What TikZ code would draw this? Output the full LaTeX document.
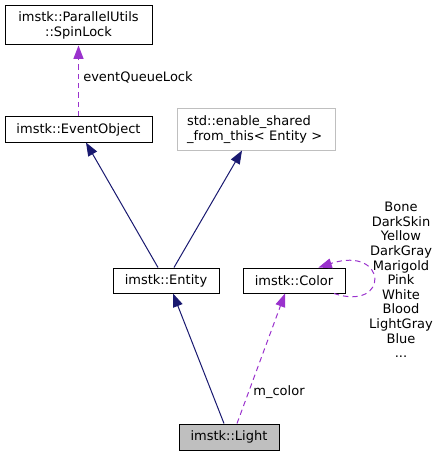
\documentclass[tikz,border=0pt]{standalone}
\usepackage{fontspec}
\setmainfont{DejaVu Sans}
\usetikzlibrary{arrows.meta,calc}
\definecolor{navyedge}{HTML}{191970}
\definecolor{purpedge}{HTML}{9A32CD}
\definecolor{grayfill}{HTML}{BFBFBF}
\tikzset{
  box/.style={draw=black, line width=0.75pt, inner sep=0pt, align=center, font=\fontsize{9.75}{11}\selectfont},
  graybox/.style={draw=grayfill, line width=0.75pt, inner sep=0pt, align=left, font=\fontsize{9.75}{11}\selectfont},
  inh/.style={draw=navyedge, line width=0.75pt, -{Triangle[length=10pt,width=7.5pt]}, color=navyedge},
  use/.style={draw=purpedge, line width=0.75pt, dashed, dash pattern=on 4pt off 3pt, -{Triangle[length=10pt,width=7.5pt]}, color=purpedge},
  lbl/.style={font=\fontsize{9.75}{11}\selectfont, inner sep=0pt}
}
\begin{document}
\begin{tikzpicture}[x=0.75pt,y=-0.75pt]
\useasboundingbox (0,0) rectangle (439,456);
\node[box, minimum width=147*0.75pt, minimum height=39*0.75pt] (spin) at (78.5,25.5) {imstk::ParallelUtils\\::SpinLock};
\node[box, minimum width=147*0.75pt, minimum height=25*0.75pt] (evobj) at (78.5,129.5) {imstk::EventObject};
\node[graybox, minimum width=158*0.75pt, minimum height=41*0.75pt, text width=138*0.75pt] (enable) at (256,129.5) {std::enable\_shared\\\_from\_this< Entity >};
\node[box, minimum width=106*0.75pt, minimum height=25*0.75pt] (entity) at (166,280.5) {imstk::Entity};
\node[box, minimum width=102*0.75pt, minimum height=25*0.75pt] (color) at (294,280.5) {imstk::Color};
\node[box, fill=grayfill, minimum width=100*0.75pt, minimum height=26*0.75pt] (light) at (229,437) {imstk::Light};

\draw[use] (evobj.north) -- (spin.south);
\node[lbl, anchor=west] (eql) at (83,77) {eventQueueLock};

\draw[inh] ($(entity.north)+(-8,0)$) -- ($(evobj.south)+(7.5,0)$);
\draw[inh] ($(entity.north)+(8,0)$) -- ($(enable.south)+(-14,0)$);
\draw[inh] ($(light.north)+(-5,0)$) -- ($(entity.south)+(7,0)$);
\draw[use] ($(light.north)+(8,0)$) -- ($(color.south)+(-9,0)$);
\node[lbl] (mcol) at (279,392) {m\_color};

\draw[use] (color.-18) .. controls (390,312) and (388,245) .. (color.28);
\node[lbl, align=center, font=\fontsize{9.75}{10.95}\selectfont] (clist) at (401,280) {Bone\\DarkSkin\\Yellow\\DarkGray\\Marigold\\Pink\\White\\Blood\\LightGray\\Blue\\...};
\end{tikzpicture}
\end{document}
